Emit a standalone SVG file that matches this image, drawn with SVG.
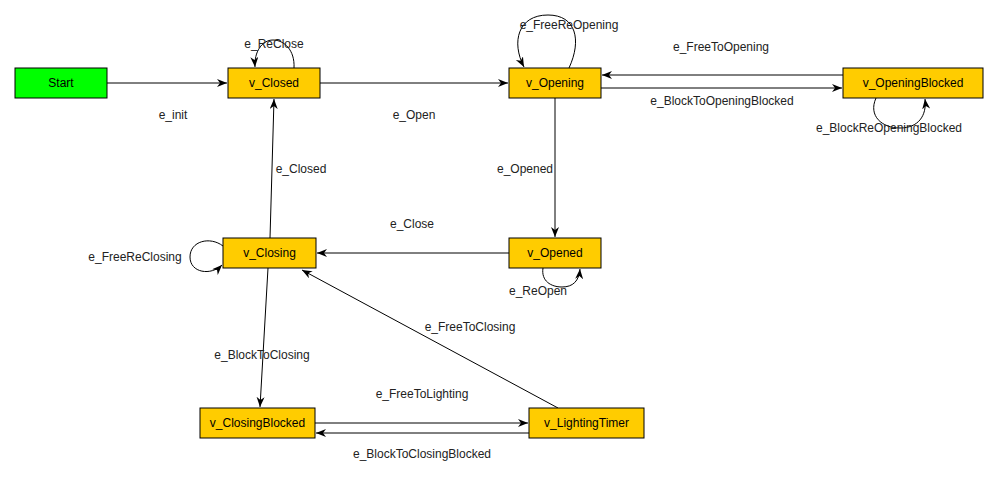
<svg xmlns="http://www.w3.org/2000/svg" width="997" height="478" viewBox="0 0 997 478">
<style>
.n rect{stroke:#000;stroke-width:1}
.v rect{fill:#FFCC00}
.s rect{fill:#00FF00}
.n text{font-family:"Liberation Sans",Arial,sans-serif;font-size:12px;fill:#000;text-anchor:middle;dominant-baseline:central}
.e path{fill:none;stroke:#000;stroke-width:1;marker-end:url(#a)}
.l text{font-family:"Liberation Sans",Arial,sans-serif;font-size:12px;fill:#222;text-anchor:middle;dominant-baseline:central}
</style>
<defs>
<marker id="a" markerUnits="userSpaceOnUse" markerWidth="12" markerHeight="10" refX="10" refY="4" orient="auto" viewBox="0 0 12 10">
<path d="M0,0 L10,4 L0,8 L3,4 Z" fill="#000"/>
</marker>
</defs>
<rect width="997" height="478" fill="#fff"/>
<g class="e" id="connectors">
<path d="M107,83 L227,83"/>
<path d="M320,83 L508,83"/>
<path d="M294,68 C295,50 284,40 273,40 C262,40 254,52 255,67"/>
<path d="M569,68 C582,40 576,15 548,15 C518,15 511,42 524,67"/>
<path d="M843,75 L602,75"/>
<path d="M601,88 L842,88"/>
<path d="M876,98 C868,116 882,128 900,128 C918,128 927,116 925,99"/>
<path d="M555,98 L555,237"/>
<path d="M509,253 L317,253"/>
<path d="M543,268 C541,281 551,287 562,287 C573,287 579,281 580,269"/>
<path d="M270,238 L274,99"/>
<path d="M223,246 C210,236 190,241 190,257 C190,273 211,276 222,265"/>
<path d="M268,268 L260,407"/>
<path d="M558,408 L302,270"/>
<path d="M315,423 L528,423"/>
<path d="M529,433 L316,433"/>
</g>
<g class="l" id="labels">
<text x="173" y="115">e_init</text>
<text x="274" y="44">e_ReClose</text>
<text x="414" y="115">e_Open</text>
<text x="569" y="25">e_FreeReOpening</text>
<text x="721" y="47">e_FreeToOpening</text>
<text x="722" y="101">e_BlockToOpeningBlocked</text>
<text x="889" y="128">e_BlockReOpeningBlocked</text>
<text x="525" y="169">e_Opened</text>
<text x="301" y="169">e_Closed</text>
<text x="412" y="224">e_Close</text>
<text x="135" y="257">e_FreeReClosing</text>
<text x="538" y="291">e_ReOpen</text>
<text x="470" y="327">e_FreeToClosing</text>
<text x="262" y="355">e_BlockToClosing</text>
<text x="422" y="394">e_FreeToLighting</text>
<text x="422" y="454">e_BlockToClosingBlocked</text>
</g>
<g class="n s" id="Start"><rect x="15" y="68" width="92" height="30"/><text x="61" y="83">Start</text></g>
<g class="n v" id="v_Closed"><rect x="228" y="68" width="92" height="30"/><text x="274" y="83">v_Closed</text></g>
<g class="n v" id="v_Opening"><rect x="509" y="68" width="92" height="30"/><text x="555" y="83">v_Opening</text></g>
<g class="n v" id="v_OpeningBlocked"><rect x="843" y="68" width="140" height="30"/><text x="913" y="83">v_OpeningBlocked</text></g>
<g class="n v" id="v_Closing"><rect x="223" y="238" width="93" height="30"/><text x="269.5" y="253">v_Closing</text></g>
<g class="n v" id="v_Opened"><rect x="509" y="238" width="92" height="30"/><text x="555" y="253">v_Opened</text></g>
<g class="n v" id="v_ClosingBlocked"><rect x="200" y="408" width="115" height="30"/><text x="257.5" y="423">v_ClosingBlocked</text></g>
<g class="n v" id="v_LightingTimer"><rect x="529" y="408" width="115" height="30"/><text x="586.5" y="423">v_LightingTimer</text></g>
</svg>
